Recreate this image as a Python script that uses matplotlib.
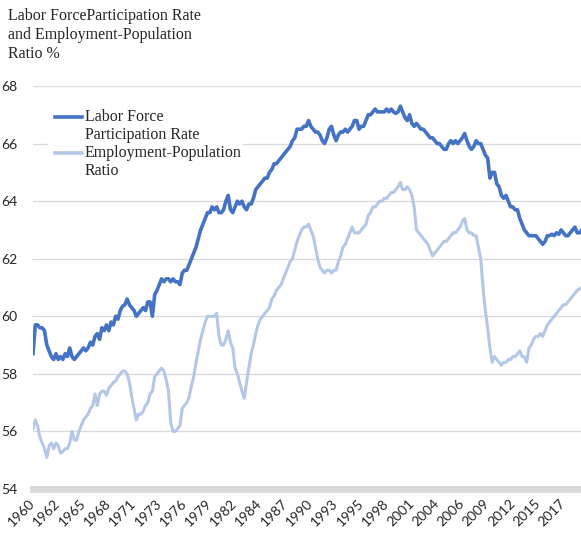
import numpy as np
import matplotlib.pyplot as plt
from matplotlib.patches import Rectangle

plt.rcParams['font.family'] = ['Lato', 'DejaVu Sans']

# quarterly readings, 1960 Q1 .. 2019 Q4
lfpr = [
    58.7, 59.7, 59.7, 59.6,  # 1960
    59.6, 59.5, 59.0, 58.8,  # 1961
    58.6, 58.5, 58.7, 58.5,  # 1962
    58.6, 58.5, 58.7, 58.6,  # 1963
    58.9, 58.6, 58.5, 58.6,  # 1964
    58.7, 58.8, 58.9, 58.8,  # 1965
    58.9, 59.1, 59.0, 59.3,  # 1966
    59.4, 59.2, 59.6, 59.5,  # 1967
    59.7, 59.5, 59.8, 59.7,  # 1968
    60.0, 59.9, 60.2, 60.35,  # 1969
    60.4, 60.6, 60.4, 60.3,  # 1970
    60.2, 60.0, 60.1, 60.2,  # 1971
    60.3, 60.2, 60.5, 60.5,  # 1972
    60.0, 60.75, 60.9, 61.1,  # 1973
    61.3, 61.2, 61.3, 61.3,  # 1974
    61.2, 61.3, 61.2, 61.2,  # 1975
    61.1, 61.5, 61.6, 61.6,  # 1976
    61.8, 62.0, 62.2, 62.4,  # 1977
    62.7, 63.0, 63.2, 63.4,  # 1978
    63.6, 63.6, 63.8, 63.7,  # 1979
    63.8, 63.6, 63.6, 63.7,  # 1980
    64.0, 64.2, 63.7, 63.6,  # 1981
    63.8, 64.0, 63.9, 64.0,  # 1982
    63.8, 63.7, 63.9, 63.9,  # 1983
    64.1, 64.4, 64.5, 64.6,  # 1984
    64.7, 64.8, 64.8, 65.0,  # 1985
    65.1, 65.3, 65.3, 65.4,  # 1986
    65.5, 65.6, 65.7, 65.8,  # 1987
    65.9, 66.1, 66.2, 66.5,  # 1988
    66.5, 66.5, 66.6, 66.6,  # 1989
    66.8, 66.6, 66.5, 66.4,  # 1990
    66.4, 66.3, 66.1, 66.0,  # 1991
    66.2, 66.5, 66.6, 66.3,  # 1992
    66.1, 66.3, 66.4, 66.4,  # 1993
    66.5, 66.4, 66.5, 66.6,  # 1994
    66.8, 66.8, 66.5, 66.6,  # 1995
    66.6, 66.8, 67.0, 67.0,  # 1996
    67.1, 67.2, 67.1, 67.1,  # 1997
    67.1, 67.1, 67.2, 67.1,  # 1998
    67.2, 67.1, 67.05, 67.1,  # 1999
    67.3, 67.1, 66.9, 66.8,  # 2000
    67.0, 66.7, 66.6, 66.7,  # 2001
    66.6, 66.5, 66.5, 66.4,  # 2002
    66.3, 66.2, 66.2, 66.1,  # 2003
    66.0, 66.0, 65.9, 65.8,  # 2004
    65.8, 66.0, 66.1, 66.0,  # 2005
    66.1, 66.0, 66.1, 66.2,  # 2006
    66.35, 66.1, 65.9, 65.8,  # 2007
    65.9, 66.1, 66.0, 66.0,  # 2008
    65.8, 65.6, 65.5, 64.8,  # 2009
    65.0, 65.0, 64.6, 64.5,  # 2010
    64.2, 64.1, 64.2, 64.0,  # 2011
    63.8, 63.8, 63.7, 63.7,  # 2012
    63.4, 63.2, 63.0, 62.9,  # 2013
    62.8, 62.8, 62.8, 62.8,  # 2014
    62.7, 62.6, 62.5, 62.6,  # 2015
    62.8, 62.8, 62.85, 62.8,  # 2016
    62.9, 62.85, 63.0, 62.9,  # 2017
    62.8, 62.8, 62.9, 63.0,  # 2018
    63.1, 62.9, 62.9, 63.0,  # 2019
]

epr = [
    56.1, 56.4, 56.2, 55.8,  # 1960
    55.6, 55.4, 55.1, 55.5,  # 1961
    55.6, 55.4, 55.6, 55.5,  # 1962
    55.25, 55.3, 55.4, 55.4,  # 1963
    55.6, 56.0, 55.7, 55.7,  # 1964
    56.0, 56.2, 56.4, 56.5,  # 1965
    56.6, 56.8, 56.9, 57.3,  # 1966
    56.9, 57.3, 57.4, 57.4,  # 1967
    57.25, 57.5, 57.6, 57.7,  # 1968
    57.75, 57.9, 58.0, 58.1,  # 1969
    58.1, 58.0, 57.7, 57.2,  # 1970
    56.8, 56.4, 56.6, 56.6,  # 1971
    56.7, 56.9, 57.0, 57.3,  # 1972
    57.4, 57.9, 58.0, 58.1,  # 1973
    58.2, 58.1, 57.8, 57.4,  # 1974
    56.3, 56.0, 56.0, 56.1,  # 1975
    56.2, 56.8, 56.9, 57.0,  # 1976
    57.2, 57.6, 57.9, 58.4,  # 1977
    58.8, 59.2, 59.5, 59.8,  # 1978
    60.0, 60.0, 60.0, 60.0,  # 1979
    60.1, 59.3, 59.0, 59.0,  # 1980
    59.2, 59.5, 59.1, 58.9,  # 1981
    58.2, 58.0, 57.7, 57.4,  # 1982
    57.15, 57.7, 58.2, 58.7,  # 1983
    59.0, 59.4, 59.7, 59.9,  # 1984
    60.0, 60.1, 60.2, 60.3,  # 1985
    60.6, 60.7, 60.9, 61.0,  # 1986
    61.1, 61.3, 61.5, 61.7,  # 1987
    61.9, 62.0, 62.3, 62.6,  # 1988
    62.8, 63.0, 63.1, 63.1,  # 1989
    63.2, 63.0, 62.8, 62.4,  # 1990
    62.0, 61.7, 61.6, 61.5,  # 1991
    61.6, 61.6, 61.5, 61.6,  # 1992
    61.6, 61.9, 62.1, 62.4,  # 1993
    62.5, 62.7, 62.9, 63.1,  # 1994
    62.9, 62.9, 62.9, 63.0,  # 1995
    63.1, 63.2, 63.5, 63.6,  # 1996
    63.8, 63.8, 63.9, 64.0,  # 1997
    64.0, 64.1, 64.1, 64.2,  # 1998
    64.3, 64.3, 64.4, 64.5,  # 1999
    64.65, 64.4, 64.4, 64.5,  # 2000
    64.4, 64.2, 63.8, 63.0,  # 2001
    62.9, 62.8, 62.7, 62.6,  # 2002
    62.5, 62.3, 62.1, 62.2,  # 2003
    62.3, 62.4, 62.5, 62.6,  # 2004
    62.6, 62.7, 62.8, 62.9,  # 2005
    62.9, 63.0, 63.1, 63.3,  # 2006
    63.4, 63.0, 62.9, 62.9,  # 2007
    62.8, 62.8, 62.4, 62.0,  # 2008
    61.0, 60.2, 59.6, 58.9,  # 2009
    58.4, 58.6, 58.5, 58.4,  # 2010
    58.3, 58.4, 58.4, 58.5,  # 2011
    58.5, 58.6, 58.6, 58.7,  # 2012
    58.8, 58.6, 58.6, 58.4,  # 2013
    58.9, 59.0, 59.2, 59.3,  # 2014
    59.3, 59.4, 59.3, 59.5,  # 2015
    59.7, 59.8, 59.9, 60.0,  # 2016
    60.1, 60.2, 60.3, 60.4,  # 2017
    60.4, 60.5, 60.6, 60.7,  # 2018
    60.8, 60.9, 60.95, 61.0,  # 2019
]

title = "Labor ForceParticipation Rate\nand Employment-Population\nRatio %"
lfpr_label = ["Labor Force", "Participation Rate"]
epr_label = ["Employment-Population", "Ratio"]
start_year = 1960
last_month = 716      # months shown on the axis
tick_step = 33 / 12   # Excel labels every 33rd month

t = start_year + np.arange(len(lfpr)) / 4

fig = plt.figure(figsize=(5.81, 5.34), dpi=100)
ax = fig.add_axes([33 / 581, 1 - 489 / 534, 548 / 581, 403 / 534])

dark = '#4472C4'
light = '#B4C7E7'
ax.plot(t, lfpr, color=dark, lw=2.6, zorder=2)
ax.plot(t, epr, color=light, lw=2.2, zorder=2)

ax.set_xlim(start_year, start_year + last_month / 12)
ax.set_ylim(54, 68)
ax.set_yticks(range(54, 69, 2))
ticks = np.arange(start_year, start_year + 58, tick_step)
ax.set_xticks(ticks)
ax.set_xticklabels([str(int(v + 1e-6)) for v in ticks], rotation=45,
                   ha='right', va='center', rotation_mode='anchor')
ax.grid(axis='y', color='#d9d9d9', lw=0.9)
ax.set_axisbelow(True)
for s in ['top', 'right', 'left']:
    ax.spines[s].set_visible(False)
ax.spines['bottom'].set_color('#d9d9d9')
ax.spines['bottom'].set_linewidth(5)
ax.tick_params(axis='both', length=0, labelsize=10, colors='#262626')
ax.tick_params(axis='y', pad=11)
ax.tick_params(axis='x', pad=9)

# legend drawn Excel-style, handle level with the first text line
ax.add_patch(Rectangle((0.027, 0.762), 0.356, 0.203, transform=ax.transAxes,
                       facecolor='white', edgecolor='none', zorder=3))
serif = 'Liberation Serif'
for y0, color, lines in [(0.923, dark, lfpr_label), (0.834, light, epr_label)]:
    ax.plot([0.040, 0.0894], [y0, y0], transform=ax.transAxes, color=color,
            lw=2.6, zorder=4, clip_on=False)
    ax.text(0.0949, y0, lines[0], transform=ax.transAxes, va='center',
            family=serif, fontsize=11.5, color='#262626', zorder=4)
    ax.text(0.0949, y0 - 0.044, lines[1], transform=ax.transAxes, va='center',
            family=serif, fontsize=11.5, color='#262626', zorder=4)

fig.text(8 / 581, 1 - 8 / 534, title, va='top', ha='left', family=serif,
         fontsize=11.5, color='#262626', linespacing=1.25)

fig.savefig('out.png', dpi=100)
